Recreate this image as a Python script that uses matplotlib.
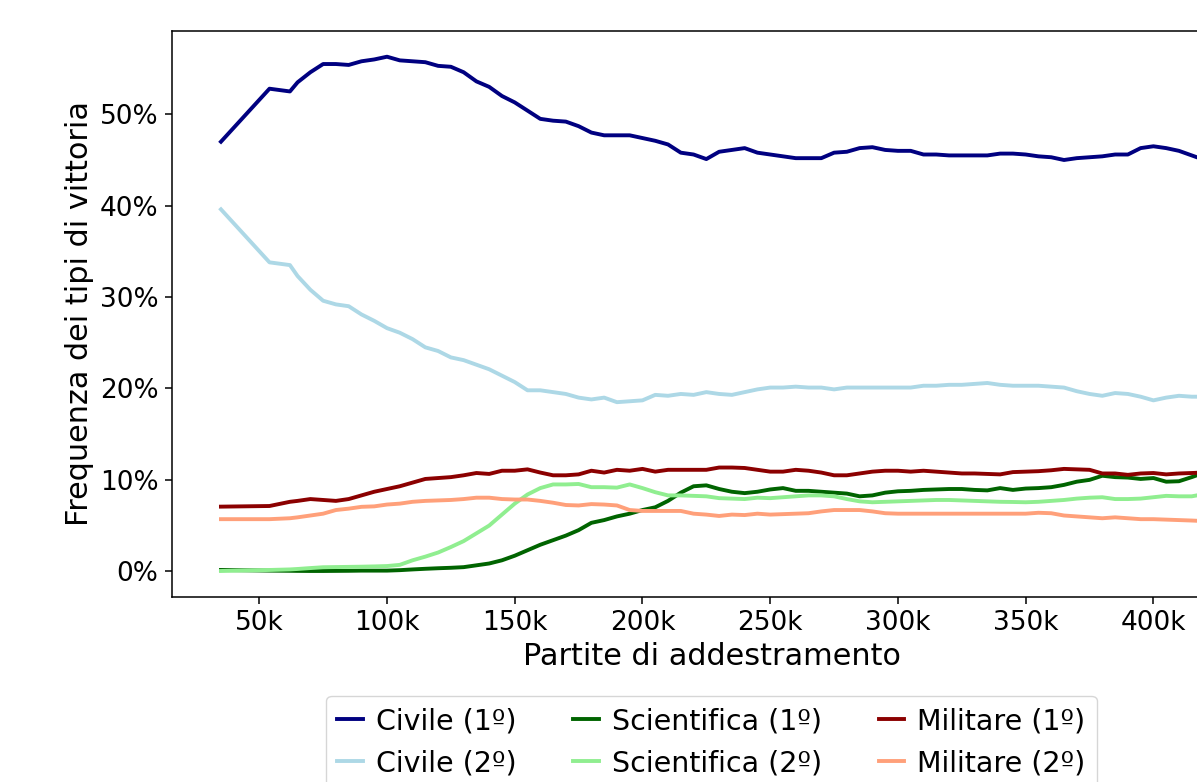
import matplotlib
matplotlib.use("Agg")
import matplotlib.pyplot as plt
from matplotlib.ticker import PercentFormatter, FuncFormatter

# Training games (thousands)
games_k = [35, 54, 62, 65, 70, 75, 80, 85, 90, 95, 100, 105, 110, 115, 120, 125, 130, 135,
           140, 145, 150, 155, 160, 165, 170, 175, 180, 185, 190, 195, 200, 205, 210, 215,
           220, 225, 230, 235, 240, 245, 250, 255, 260, 265, 270, 275, 280, 285, 290, 295,
           300, 305, 310, 315, 320, 325, 330, 335, 340, 345, 350, 355, 360, 365, 370, 375,
           380, 385, 390, 395, 400, 405, 410, 415, 419]

civile_1 = [47.0, 52.8, 52.5, 53.5, 54.6, 55.5, 55.5, 55.4, 55.8, 56.0, 56.3, 55.9, 55.8, 55.7,
            55.3, 55.2, 54.6, 53.6, 53.0, 52.0, 51.3, 50.4, 49.5, 49.3, 49.2, 48.7, 48.0, 47.7,
            47.7, 47.7, 47.4, 47.1, 46.7, 45.8, 45.6, 45.1, 45.9, 46.1, 46.3, 45.8, 45.6, 45.4,
            45.2, 45.2, 45.2, 45.8, 45.9, 46.3, 46.4, 46.1, 46.0, 46.0, 45.6, 45.6, 45.5, 45.5,
            45.5, 45.5, 45.7, 45.7, 45.6, 45.4, 45.3, 45.0, 45.2, 45.3, 45.4, 45.6, 45.6, 46.3,
            46.5, 46.3, 46.0, 45.5, 45.1]

civile_2 = [39.6, 33.8, 33.5, 32.3, 30.8, 29.6, 29.2, 29.0, 28.1, 27.4, 26.6, 26.1, 25.4, 24.5,
            24.1, 23.4, 23.1, 22.6, 22.1, 21.4, 20.7, 19.8, 19.8, 19.6, 19.4, 19.0, 18.8, 19.0,
            18.5, 18.6, 18.7, 19.3, 19.2, 19.4, 19.3, 19.6, 19.4, 19.3, 19.6, 19.9, 20.1, 20.1,
            20.2, 20.1, 20.1, 19.9, 20.1, 20.1, 20.1, 20.1, 20.1, 20.1, 20.3, 20.3, 20.4, 20.4,
            20.5, 20.6, 20.4, 20.3, 20.3, 20.3, 20.2, 20.1, 19.7, 19.4, 19.2, 19.5, 19.4, 19.1,
            18.7, 19.0, 19.2, 19.1, 19.1]

scientifica_1 = [0.14, 0.07, 0.05, 0.04, 0.03, 0.03, 0.04, 0.05, 0.07, 0.07, 0.07, 0.12, 0.2,
                 0.27, 0.33, 0.38, 0.45, 0.65, 0.85, 1.2, 1.7, 2.3, 2.9, 3.4, 3.9, 4.5, 5.3, 5.6,
                 6.0, 6.3, 6.7, 7.0, 7.7, 8.6, 9.3, 9.4, 9.0, 8.7, 8.55, 8.7, 8.95, 9.1, 8.8, 8.8,
                 8.7, 8.6, 8.5, 8.2, 8.3, 8.6, 8.75, 8.8, 8.9, 8.95, 9.0, 9.0, 8.9, 8.85, 9.1,
                 8.9, 9.05, 9.1, 9.2, 9.45, 9.8, 10.0, 10.45, 10.3, 10.25, 10.1, 10.2, 9.8, 9.85,
                 10.3, 10.7]

scientifica_2 = [0.03, 0.14, 0.2, 0.25, 0.35, 0.44, 0.46, 0.48, 0.5, 0.53, 0.57, 0.7, 1.2, 1.6,
                 2.05, 2.65, 3.3, 4.15, 5.0, 6.2, 7.4, 8.4, 9.1, 9.5, 9.5, 9.55, 9.2, 9.2, 9.15,
                 9.5, 9.1, 8.65, 8.3, 8.3, 8.25, 8.2, 8.0, 7.95, 7.9, 8.05, 8.0, 8.1, 8.2, 8.3,
                 8.3, 8.2, 7.9, 7.65, 7.55, 7.6, 7.65, 7.7, 7.75, 7.8, 7.8, 7.75, 7.7, 7.65, 7.6,
                 7.58, 7.55, 7.6, 7.7, 7.8, 7.95, 8.05, 8.1, 7.9, 7.9, 7.95, 8.1, 8.25, 8.2, 8.2,
                 8.4]

militare_1 = [7.07, 7.14, 7.6, 7.7, 7.9, 7.8, 7.7, 7.9, 8.3, 8.7, 9.0, 9.3, 9.7, 10.1, 10.2,
              10.3, 10.5, 10.75, 10.65, 11.0, 11.0, 11.15, 10.8, 10.5, 10.5, 10.6, 11.0, 10.8,
              11.1, 11.0, 11.2, 10.9, 11.1, 11.1, 11.1, 11.1, 11.35, 11.35, 11.3, 11.1, 10.9,
              10.9, 11.1, 11.0, 10.8, 10.5, 10.5, 10.7, 10.9, 11.0, 11.0, 10.9, 11.0, 10.9, 10.8,
              10.7, 10.7, 10.65, 10.6, 10.85, 10.9, 10.95, 11.05, 11.2, 11.15, 11.1, 10.7, 10.7,
              10.55, 10.7, 10.75, 10.6, 10.7, 10.75, 10.8]

militare_2 = [5.7, 5.7, 5.8, 5.9, 6.1, 6.3, 6.7, 6.85, 7.05, 7.1, 7.3, 7.4, 7.6, 7.7, 7.75, 7.8,
              7.9, 8.05, 8.05, 7.9, 7.85, 7.85, 7.7, 7.5, 7.25, 7.2, 7.35, 7.3, 7.2, 6.7, 6.6,
              6.6, 6.6, 6.6, 6.3, 6.2, 6.05, 6.2, 6.15, 6.3, 6.2, 6.25, 6.3, 6.35, 6.55, 6.7,
              6.7, 6.7, 6.55, 6.35, 6.3, 6.3, 6.3, 6.3, 6.3, 6.3, 6.3, 6.3, 6.3, 6.3, 6.3, 6.4,
              6.35, 6.1, 6.0, 5.9, 5.8, 5.9, 5.8, 5.7, 5.7, 5.65, 5.6, 5.55, 5.5]

series = [
    ("Civile (1º)", civile_1, "navy"),
    ("Civile (2º)", civile_2, "lightblue"),
    ("Scientifica (1º)", scientifica_1, "darkgreen"),
    ("Scientifica (2º)", scientifica_2, "lightgreen"),
    ("Militare (1º)", militare_1, "darkred"),
    ("Militare (2º)", militare_2, "lightsalmon"),
]

plt.rcParams["font.family"] = ["DejaVu Sans"]
plt.rcParams["font.size"] = 19
plt.rcParams["axes.linewidth"] = 1.1
for ax_ in ("xtick", "ytick"):
    plt.rcParams[f"{ax_}.major.size"] = 4.8
    plt.rcParams[f"{ax_}.major.width"] = 1.1
    plt.rcParams[f"{ax_}.major.pad"] = 4.8

fig = plt.figure(figsize=(11.97, 7.82), dpi=100)
ax = fig.add_axes([171.9 / 1197, (782 - 596.7) / 782, (1251 - 171.9) / 1197, (596.7 - 31.0) / 782])

for label, vals, color in series:
    ax.plot(games_k, vals, color=color, lw=2.8, label=label)

ax.yaxis.set_major_formatter(PercentFormatter(xmax=100, decimals=0))
ax.xaxis.set_major_formatter(FuncFormatter(lambda v, p: f"{v:.0f}k"))
ax.set_xticks([50, 100, 150, 200, 250, 300, 350, 400])
ax.set_yticks([0, 10, 20, 30, 40, 50])
ax.set_xlabel("Partite di addestramento", fontsize=21.8)
ax.set_ylabel("Frequenza dei tipi di vittoria", fontsize=21.8)

ax.legend(loc="upper center", bbox_to_anchor=(0.5, -0.15), ncol=3, fontsize=20.5,
          handlelength=0.9, handletextpad=0.45, columnspacing=2.0)

fig.savefig("out.png", dpi=100)
